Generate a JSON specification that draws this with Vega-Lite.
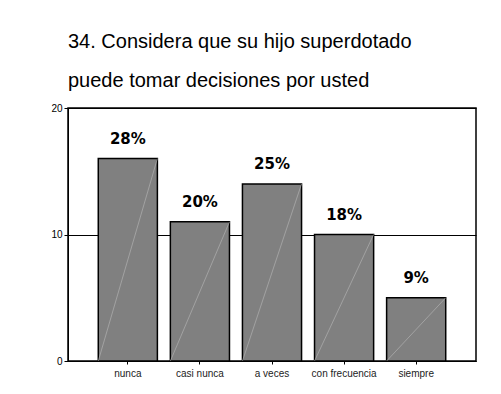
{
  "$schema": "https://vega.github.io/schema/vega-lite/v6.json",
  "width": 408,
  "height": 253,
  "padding": {"left": 50, "top": 32, "right": 20, "bottom": 5},
  "background": "white",
  "title": {
    "text": ["34. Considera que su hijo superdotado", "puede tomar decisiones por usted"],
    "anchor": "start",
    "frame": "group",
    "fontSize": 20,
    "fontWeight": "normal",
    "font": "Liberation Sans",
    "color": "black",
    "lineHeight": 39,
    "offset": 12
  },
  "data": {
    "values": [
      {"respuesta": "nunca", "frecuencia": 16, "porcentaje": "28%"},
      {"respuesta": "casi nunca", "frecuencia": 11, "porcentaje": "20%"},
      {"respuesta": "a veces", "frecuencia": 14, "porcentaje": "25%"},
      {"respuesta": "con frecuencia", "frecuencia": 10, "porcentaje": "18%"},
      {"respuesta": "siempre", "frecuencia": 5, "porcentaje": "9%"}
    ]
  },
  "encoding": {
    "x": {
      "field": "respuesta",
      "type": "nominal",
      "sort": null,
      "scale": {"paddingInner": 0.18, "paddingOuter": 0.42},
      "axis": {
        "title": null,
        "labelAngle": 0,
        "tickSize": 3,
        "labelFontSize": 10,
        "labelFont": "Liberation Sans",
        "labelPadding": 4,
        "domainColor": "black",
        "tickColor": "black",
        "labelColor": "#222222"
      }
    }
  },
  "layer": [
    {
      "mark": {"type": "bar", "fill": "#808080", "stroke": "black", "strokeWidth": 1.5},
      "encoding": {
        "y": {
          "field": "frecuencia",
          "type": "quantitative",
          "scale": {"domain": [0, 20]},
          "axis": {
            "values": [0, 10, 20],
            "title": null,
            "grid": true,
            "gridColor": "black",
            "gridOpacity": 1,
            "gridWidth": 1,
            "tickSize": 4,
            "labelPadding": 2,
            "labelFontSize": 10,
            "labelFont": "Liberation Sans",
            "labelColor": "black",
            "domainColor": "black",
            "tickColor": "black"
          }
        }
      }
    },
    {
      "mark": {"type": "rule", "color": "#b8b8b8", "strokeWidth": 0.6},
      "encoding": {
        "x": {"field": "respuesta", "type": "nominal", "sort": null, "bandPosition": 1},
        "x2": {"field": "respuesta", "bandPosition": 0},
        "y": {"field": "frecuencia", "type": "quantitative"},
        "y2": {"datum": 0}
      }
    },
    {
      "mark": {"type": "text", "dy": -20, "fontWeight": "bold", "fontSize": 15, "font": "DejaVu Sans", "color": "black"},
      "encoding": {
        "y": {"field": "frecuencia", "type": "quantitative"},
        "text": {"field": "porcentaje"}
      }
    }
  ],
  "config": {"view": {"stroke": "black", "strokeWidth": 1.5}}
}
